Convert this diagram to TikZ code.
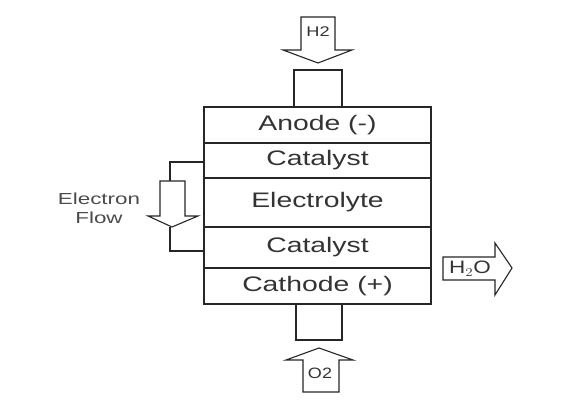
\documentclass[tikz,border=0pt]{standalone}
\usepackage{fontspec}
\setmainfont{Liberation Sans}
\newcommand{\wtxt}[2]{\scalebox{#1}[1]{#2}}
\begin{document}
\begin{tikzpicture}[x=1pt,y=-1pt,
  layer/.style={draw=black!85,line width=1.4pt,minimum width=227pt,inner sep=0pt,anchor=center},
  pipe/.style={draw=black!85,line width=1.1pt,inner sep=0pt},
  fat/.style={draw=black!85,line width=1.1pt,line join=miter,fill=white},
  wire/.style={draw=black!85,line width=1.1pt},
  lbl/.style={font=\fontsize{21}{21}\selectfont,text=black!80,inner sep=0pt}]
\useasboundingbox[fill=white] (0,0) rectangle (576,411);
% inlet / outlet stubs
\node[pipe,minimum width=48pt,minimum height=37pt] (inlet) at (318,88.5) {};
\node[pipe,minimum width=46pt,minimum height=36pt] (outlet) at (319,322) {};
% stack
\node[layer,minimum height=36pt] (anode) at (317.5,125) {};
\node[layer,minimum height=35pt] (cat1) at (317.5,160.5) {};
\node[layer,minimum height=49pt] (elec) at (317.5,202.5) {};
\node[layer,minimum height=41pt] (cat2) at (317.5,247.5) {};
\node[layer,minimum height=36pt] (cath) at (317.5,286) {};
\node[lbl] at (anode) {\wtxt{1.35}{Anode (-)}};
\node[lbl] at (cat1) {\wtxt{1.35}{Catalyst}};
\node[lbl] at (elec) {\wtxt{1.35}{Electrolyte}};
\node[lbl] at (cat2) {\wtxt{1.35}{Catalyst}};
\node[lbl] at (cath) {\wtxt{1.35}{Cathode (+)}};
% H2 arrow (down)
\draw[fat] (301,17) -- (335,17) -- (335,50) -- (352,50) -- (318,63) -- (283,50) -- (301,50) -- cycle;
\node[font=\fontsize{14}{14}\selectfont,text=black!80,inner sep=0pt] (h2) at (318,32) {\wtxt{1.3}{H2}};
% O2 arrow (up)
\draw[fat] (303,392) -- (339,392) -- (339,360) -- (353,360) -- (319,348) -- (286,360) -- (303,360) -- cycle;
\node[font=\fontsize{15}{15}\selectfont,text=black!80,inner sep=0pt] (o2) at (320,373) {\wtxt{1.2}{O2}};
% H2O arrow (right)
\draw[fat] (443,257) -- (495,257) -- (495,243) -- (512,268) -- (495,295) -- (495,280) -- (443,280) -- cycle;
\node[font=\fontsize{18}{18}\selectfont,text=black!80,inner sep=0pt] (h2o) at (470,268.5) {\wtxt{1.25}{H$_2$O}};
% electron flow
\coordinate (etop) at (170,181);
\coordinate (ebot) at (170,227);
\draw[wire] (cat1.west |- 0,162) -| (etop);
\draw[wire] (ebot) |- (cat2.west |- 0,251);
\draw[fat] (160,181) -- (185,181) -- (185,216) -- (198,216) -- (172,227) -- (148,216) -- (160,216) -- cycle;
\node[font=\fontsize{16}{19}\selectfont,text=black!70,align=center,inner sep=0pt] (ef) at (99,208) {\wtxt{1.4}{Electron}\\\wtxt{1.4}{Flow}};
\end{tikzpicture}
\end{document}
